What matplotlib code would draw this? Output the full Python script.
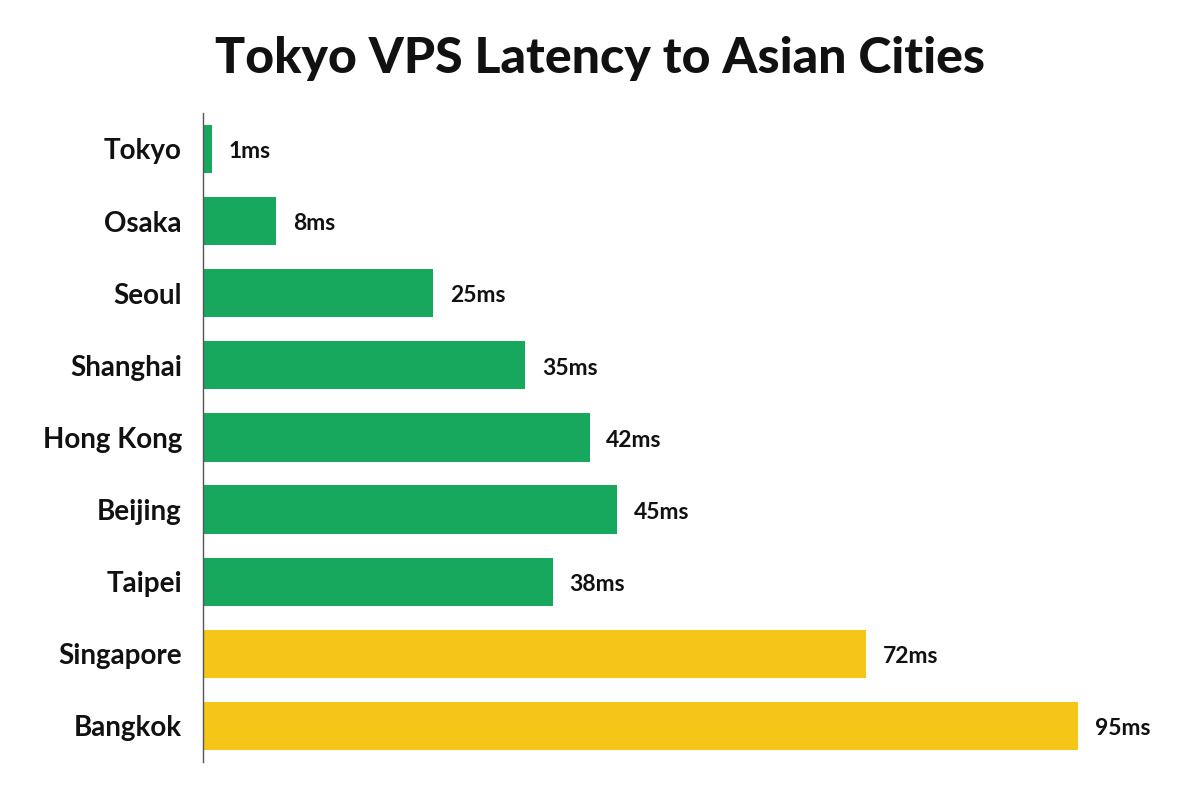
import matplotlib.pyplot as plt

# latency data
cities = ['Tokyo', 'Osaka', 'Seoul', 'Shanghai', 'Hong Kong', 'Beijing', 'Taipei', 'Singapore', 'Bangkok']
latency_ms = [1, 8, 25, 35, 42, 45, 38, 72, 95]
bar_colors = ['#17a85e'] * 7 + ['#f5c518'] * 2

plt.rcParams['font.family'] = ['Lato', 'DejaVu Sans']

fig = plt.figure(figsize=(12, 8), dpi=100)
ax = fig.add_axes([0.169, 0.0475, 0.806, 0.8115])

y = list(range(len(cities)))
ax.barh(y, latency_ms, height=0.67, color=bar_colors)

# value labels next to each bar
for yi, v in zip(y, latency_ms):
    ax.annotate(f'{v}ms', xy=(v, yi), xytext=(12, -2), textcoords='offset points',
                va='center', ha='left', fontsize=16.5, fontweight='bold', color='#111111')

ax.set_yticks(y)
ax.set_yticklabels(cities, fontsize=20, fontweight='bold', color='#111111')
ax.tick_params(axis='y', length=0, pad=15)
ax.set_ylim(len(cities) - 0.5, -0.5)
ax.set_xlim(0, 105)
ax.set_xticks([])

for s in ['top', 'right', 'bottom']:
    ax.spines[s].set_visible(False)
ax.spines['left'].set_color('#555555')
ax.spines['left'].set_linewidth(1.0)

fig.suptitle('Tokyo VPS Latency to Asian Cities', fontsize=36, fontweight='black',
             y=0.955, color='#111111')

fig.savefig('out.png', dpi=100, facecolor='white')
